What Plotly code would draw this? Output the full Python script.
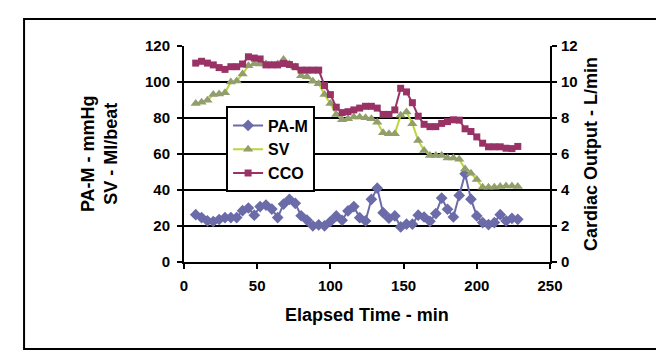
import plotly.graph_objects as go

# ---- data ----
time_min = [8, 12, 16, 20, 24, 28, 32, 36, 40, 44, 48, 52, 56, 60, 64, 68,
            72, 76, 80, 84, 88, 92, 96, 100, 104, 108, 112, 116, 120, 124, 128, 132,
            136, 140, 144, 148, 152, 156, 160, 164, 168, 172, 176, 180, 184, 188,
            192, 196, 200, 204, 208, 212, 216, 220, 224, 228]

pa_m = [26.3, 24.7, 22.9, 22.5, 23.6, 24.6, 24.7, 24.7, 28.5, 30.0, 26.0, 30.8,
        31.6, 29.4, 24.7, 32.2, 34.8, 32.6, 25.7, 23.3, 20.1, 20.6, 20.1, 22.5,
        25.6, 23.2, 28.4, 30.8, 24.6, 22.8, 34.8, 41.0, 27.4, 24.3, 25.6, 19.5,
        21.0, 21.0, 26.0, 25.0, 22.6, 26.9, 35.5, 29.3, 25.0, 37.0, 49.0, 34.9,
        25.6, 21.9, 20.8, 21.9, 26.3, 22.8, 24.2, 23.7]

sv = [88.0, 88.7, 89.8, 93.0, 93.3, 94.0, 100.0, 100.5, 104.5, 109.0, 110.2, 110.0,
      110.0, 109.5, 110.0, 112.5, 110.0, 108.4, 103.5, 102.9, 100.4, 99.0, 93.0, 88.0,
      82.0, 79.0, 79.6, 80.5, 80.5, 80.2, 79.6, 77.7, 71.8, 71.2, 71.2, 81.5,
      83.3, 76.8, 67.5, 62.0, 59.1, 59.1, 59.1, 57.8, 57.8, 57.1, 51.7, 49.3,
      45.8, 41.5, 41.5, 41.5, 41.9, 42.2, 42.2, 41.9]

cco = [11.05, 11.15, 11.05, 10.95, 10.8, 10.7, 10.85, 10.85, 11.0, 11.4, 11.33, 11.28,
       10.95, 10.95, 10.95, 11.03, 10.97, 10.85, 10.66, 10.66, 10.66, 10.66, 9.8, 9.3,
       8.6, 8.3, 8.35, 8.45, 8.55, 8.65, 8.65, 8.55, 8.2, 8.2, 8.45, 9.65,
       9.45, 8.85, 8.1, 7.65, 7.52, 7.52, 7.7, 7.8, 7.9, 7.88, 7.4, 7.25,
       6.95, 6.6, 6.4, 6.4, 6.4, 6.32, 6.3, 6.42]

x_ticks = [0, 50, 100, 150, 200, 250]
y_ticks = [0, 20, 40, 60, 80, 100, 120]
y2_ticks = [0, 2, 4, 6, 8, 10, 12]

FONT = "Arial, 'Liberation Sans', sans-serif"
PA_COLOR = "#6B6BAA"
SV_LINE = "#BCD63A"
SV_MARK = "#929E6C"
CCO_COLOR = "#993366"

fig = go.Figure()
fig.add_trace(go.Scatter(
    x=time_min, y=pa_m, name="PA-M", mode="lines+markers",
    line=dict(color=PA_COLOR, width=2),
    marker=dict(symbol="diamond", size=9, color=PA_COLOR)))
fig.add_trace(go.Scatter(
    x=time_min, y=sv, name="SV", mode="lines+markers",
    line=dict(color=SV_LINE, width=2),
    marker=dict(symbol="triangle-up", size=9, color=SV_MARK)))
fig.add_trace(go.Scatter(
    x=time_min, y=cco, name="CCO", yaxis="y2", mode="lines+markers",
    line=dict(color=CCO_COLOR, width=2),
    marker=dict(symbol="square", size=7, color=CCO_COLOR)))

tickfont = dict(family=FONT, size=15, color="black", weight="bold")
titlefont = dict(family=FONT, size=18, color="black", weight="bold")

common = dict(showline=True, linecolor="black", linewidth=2,
              ticks="outside", ticklen=5, tickwidth=2, tickcolor="black",
              zeroline=False, tickfont=tickfont)

fig.update_layout(
    width=664, height=360,
    margin=dict(l=176, r=122, t=38, b=106),
    paper_bgcolor="white", plot_bgcolor="white",
    showlegend=True,
    xaxis=dict(range=[0, 250], tickvals=x_ticks, showgrid=False,
               ticklabelstandoff=4, **common),
    yaxis=dict(range=[0, 120], tickvals=y_ticks, showgrid=True,
               gridcolor="black", gridwidth=2, ticklabelstandoff=4, **common),
    yaxis2=dict(range=[0, 12], tickvals=y2_ticks, overlaying="y", side="right",
                showgrid=False, ticklabelstandoff=1, **common),
    legend=dict(x=0.115, y=0.72, xanchor="left", yanchor="top",
                bgcolor="white", bordercolor="black", borderwidth=2,
                font=dict(family=FONT, size=16, color="black", weight="bold")),
    annotations=[
        dict(text="Elapsed Time - min", xref="paper", yref="paper",
             x=0.5, y=-0.245, xanchor="center", yanchor="middle",
             showarrow=False, font=titlefont),
        dict(text="PA-M - mmHg<br>SV - Ml/beat", xref="paper", yref="paper",
             x=-0.232, y=0.5, xanchor="center", yanchor="middle",
             textangle=-90, showarrow=False, font=titlefont),
        dict(text="Cardiac Output - L/min", xref="paper", yref="paper",
             x=1.112, y=0.5, xanchor="center", yanchor="middle",
             textangle=-90, showarrow=False, font=titlefont),
    ],
    shapes=[
        dict(type="rect", xref="paper", yref="paper",
             x0=-0.437, x1=1.309, y0=-0.403, y1=1.125,
             line=dict(color="black", width=2), fillcolor="rgba(0,0,0,0)",
             layer="below"),
    ],
)

fig.write_html("out.html")
